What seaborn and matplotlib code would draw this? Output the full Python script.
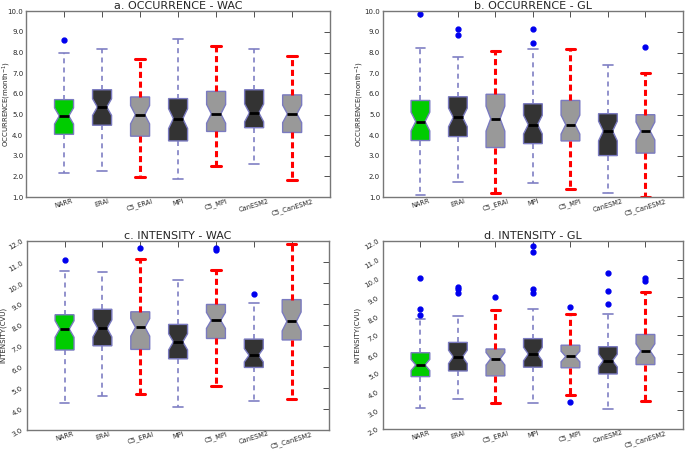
import matplotlib
matplotlib.use("Agg")
import matplotlib.pyplot as plt
import seaborn as sns

# noms des jeux de données
models = ["NARR", "ERAI", "C5_ERAI", "MPI", "C5_MPI", "CanESM2", "C5_CanESM2"]

# a. OCCURRENCE - WAC
occ_wac_whislo = [2.17, 2.25, 1.98, 1.88, 2.49, 2.60, 1.84]
occ_wac_q1 = [4.04, 4.48, 3.95, 3.72, 4.18, 4.36, 4.13]
occ_wac_med = [4.93, 5.36, 4.99, 4.80, 5.03, 5.08, 5.03]
occ_wac_q3 = [5.72, 6.20, 5.85, 5.77, 6.12, 6.20, 5.95]
occ_wac_whishi = [7.98, 8.19, 7.68, 8.67, 8.33, 8.19, 7.82]
occ_wac_fliers = [[8.59], [], [], [], [], [], []]

# b. OCCURRENCE - GL
occ_gl_whislo = [1.12, 1.72, 1.19, 1.66, 1.39, 1.19, 1.00]
occ_gl_q1 = [3.74, 3.93, 3.40, 3.59, 3.72, 3.01, 3.13]
occ_gl_med = [4.66, 4.86, 4.80, 4.51, 4.51, 4.20, 4.20]
occ_gl_q3 = [5.68, 5.86, 5.98, 5.52, 5.68, 5.04, 4.99]
occ_gl_whishi = [8.23, 7.80, 8.07, 8.15, 8.17, 7.39, 7.02]
occ_gl_fliers = [[9.89], [9.16, 8.87], [], [9.16, 8.47], [], [], [8.28]]

# c. INTENSITY - WAC
int_wac_whislo = [4.27, 4.61, 4.72, 4.08, 5.10, 4.39, 4.48]
int_wac_q1 = [6.80, 7.00, 6.83, 6.38, 7.35, 5.97, 7.28]
int_wac_med = [7.80, 7.83, 7.88, 7.19, 8.21, 6.55, 8.16]
int_wac_q3 = [8.48, 8.74, 8.62, 8.02, 8.97, 7.32, 9.20]
int_wac_whishi = [10.55, 10.53, 11.12, 10.15, 10.60, 9.02, 11.87]
int_wac_fliers = [[11.10], [], [11.68], [], [11.66, 11.55], [9.48], []]

# d. INTENSITY - GL
int_gl_whislo = [3.12, 3.58, 3.40, 3.40, 3.78, 3.07, 3.50]
int_gl_q1 = [4.78, 5.08, 4.82, 5.28, 5.25, 4.92, 5.42]
int_gl_med = [5.40, 5.83, 5.73, 5.98, 5.85, 5.63, 6.15]
int_gl_q3 = [6.05, 6.60, 6.25, 6.80, 6.45, 6.37, 7.02]
int_gl_whishi = [7.85, 8.00, 8.30, 8.35, 8.10, 8.12, 9.30]
int_gl_fliers = [[10.04, 8.40, 8.05], [9.55, 9.45, 9.20], [9.00],
                 [11.75, 11.42, 9.45, 9.20], [8.50, 3.42],
                 [10.30, 9.35, 8.65], [10.00, 9.88]]

# taille d'échantillon approx. pour les encoches (1.57*IQR/sqrt(n))
n_samples = 45

box_colors = ["#00cc00", "#333333", "#999999", "#333333", "#999999", "#333333", "#999999"]
edge_col = "#7a7ac0"
whisk_col = "#7f7fc4"

sns.set_theme(style="white")
plt.rcParams["font.family"] = ["DejaVu Sans"]

fig = plt.figure(figsize=(6.85, 4.51), dpi=100)

panels = [
    ("a. OCCURRENCE - WAC", "OCCURRENCE(month$^{-1}$)", (1, 10), 0,
     [0.038, 0.563, 0.444, 0.412], -0.043,
     occ_wac_whislo, occ_wac_q1, occ_wac_med, occ_wac_q3, occ_wac_whishi, occ_wac_fliers),
    ("b. OCCURRENCE - GL", "OCCURRENCE(month$^{-1}$)", (1, 10), 0,
     [0.559, 0.563, 0.438, 0.412], -0.058,
     occ_gl_whislo, occ_gl_q1, occ_gl_med, occ_gl_q3, occ_gl_whishi, occ_gl_fliers),
    ("c. INTENSITY - WAC", "INTENSITY(CVU)", (3, 12), 30,
     [0.039, 0.047, 0.442, 0.419], -0.066,
     int_wac_whislo, int_wac_q1, int_wac_med, int_wac_q3, int_wac_whishi, int_wac_fliers),
    ("d. INTENSITY - GL", "INTENSITY(CVU)", (2, 12), 30,
     [0.559, 0.049, 0.438, 0.417], -0.075,
     int_gl_whislo, int_gl_q1, int_gl_med, int_gl_q3, int_gl_whishi, int_gl_fliers),
]

for title, ylab, ylim, yrot, rect, labx, wlo, q1, med, q3, whi, fl in panels:
    ax = fig.add_axes(rect)
    stats = []
    for i, name in enumerate(models):
        half = 1.57 * (q3[i] - q1[i]) / n_samples ** 0.5
        stats.append(dict(label=name, whislo=wlo[i], q1=q1[i], med=med[i], q3=q3[i],
                          whishi=whi[i], fliers=fl[i],
                          cilo=med[i] - half, cihi=med[i] + half))
    bp = ax.bxp(stats, positions=range(1, 8), widths=0.5, shownotches=True,
                patch_artist=True, showfliers=True,
                boxprops=dict(edgecolor=edge_col, linewidth=1.0),
                medianprops=dict(color="black", linewidth=2),
                flierprops=dict(marker="o", markerfacecolor="#0000ee",
                                markeredgecolor="#0000ee", markersize=3.5))
    for i, patch in enumerate(bp["boxes"]):
        patch.set_facecolor(box_colors[i])
    for j, line in enumerate(bp["whiskers"]):
        if "C5" in models[j // 2]:
            line.set(color="red", linewidth=2.2, linestyle=(0, (2, 1.2)))
        else:
            line.set(color=whisk_col, linewidth=1.2, linestyle=(0, (3, 2.5)))
    for j, line in enumerate(bp["caps"]):
        if "C5" in models[j // 2]:
            line.set(color="red", linewidth=2.2)
        else:
            line.set(color=whisk_col, linewidth=1.2)

    ax.set_xlim(0, 8)
    ax.set_ylim(*ylim)
    ax.set_yticks(range(ylim[0], ylim[1] + 1))
    ax.set_yticklabels([f"{v:.1f}" for v in range(ylim[0], ylim[1] + 1)], rotation=yrot)
    ax.set_xticklabels(models, rotation=17)
    ax.tick_params(axis="both", direction="in", top=True, right=True,
                   length=4, width=0.6, color="#333333", labelsize=5, pad=2)
    ax.tick_params(axis="x", pad=0.5, labelsize=4.8)
    ax.set_title(title, fontsize=8, pad=1.5)
    ax.set_ylabel(ylab, fontsize=5)
    ax.yaxis.set_label_coords(labx, 0.5)
    for sp in ax.spines.values():
        sp.set_color("#777777")
        sp.set_linewidth(1.0)

fig.savefig("out.png", dpi=100)
